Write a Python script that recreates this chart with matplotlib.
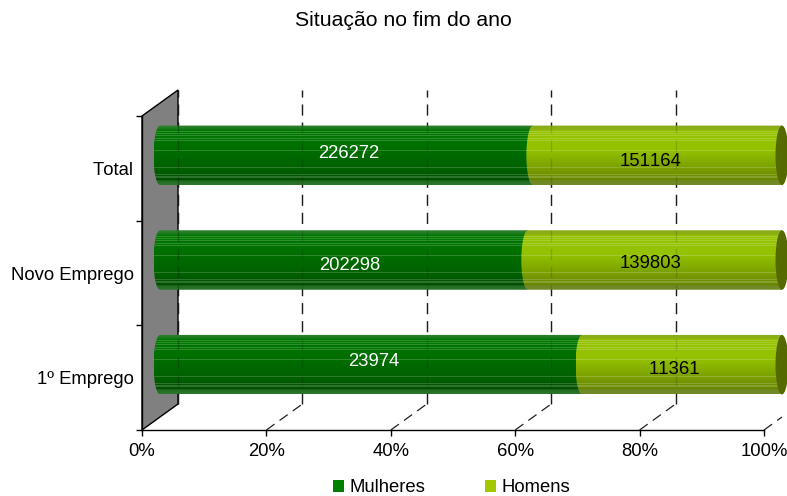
import numpy as np
import matplotlib
matplotlib.use("Agg")
import matplotlib.pyplot as plt
from matplotlib.colors import LinearSegmentedColormap
from matplotlib.patches import Patch, PathPatch, Polygon, Ellipse
from matplotlib.path import Path

plt.rcParams['font.family'] = ['Liberation Sans', 'DejaVu Sans']
plt.rcParams['text.kerning_factor'] = 8

title = "Situação no fim do ano"
categories = ["1º Emprego", "Novo Emprego", "Total"]
mulheres = [23974, 202298, 226272]
homens = [11361, 139803, 151164]
series_names = ["Mulheres", "Homens"]
tick_labels = ["0%", "20%", "40%", "60%", "80%", "100%"]

W, H = 787, 496
L, B, AW, AH = 142, 66, 622, 314
PX = 1 / AW
PY = 3 / AH
DX, DY = 36 * PX, 26 * PY          # depth of the 3D box
BDX, BDY = 18 * PX, 13 * PY        # depth offset of the cylinders
BAR_H = 59.5 * PY
CAP = 6.5 * PX
TOP = 3 + 26 * PY

fig = plt.figure(figsize=(W / 100, H / 100), dpi=100, facecolor="white")
ax = fig.add_axes([L / W, B / H, AW / W, AH / H])
ax.set_xlim(0, 1)
ax.set_ylim(0, 3)
ax.patch.set_alpha(0)

for s in ("top", "right"):
    ax.spines[s].set_visible(False)
for s in ("left", "bottom"):
    ax.spines[s].set_linewidth(1.0)
    ax.spines[s].set_zorder(20)
ax.set_xticks(np.linspace(0, 1, 6), tick_labels, fontsize=13.3)
ax.set_yticks([0, 1, 2, 3], [])
ax.set_yticks([0.5, 1.5, 2.5], categories, minor=True, fontsize=13.3)
ax.tick_params(axis="x", length=4, width=1, pad=5, color="black")
ax.tick_params(axis="y", which="major", length=4, width=1)
ax.tick_params(axis="y", which="minor", length=0, pad=5.8)

fig.text(403 / W, 1 - 21 / H, title, ha="center", va="center", fontsize=15.3)

# back wall
ax.add_patch(Polygon([(0, 0), (DX, DY), (DX, TOP), (0, 3)], closed=True,
                     facecolor="#808080", edgecolor="black", lw=1.0, zorder=1,
                     clip_on=False))
# gridlines on the back wall and floor; repeated faintly over the bars
dash = (0, (8, 5))
for v in np.linspace(0, 1, 6):
    if 0 < v < 1:
        ax.plot([v + DX, v + DX], [DY, TOP], color="#222222", lw=1, ls=dash,
                zorder=2, clip_on=False)
        ax.plot([v + DX, v + DX], [DY, TOP], color="black", lw=1, ls=dash, alpha=0.13,
                zorder=8, clip_on=False)
    if v > 0:
        end = 0.5 if v == 1 else 1
        ax.plot([v, v + DX * end], [0, DY * end], color="#222222", lw=0.9, ls=dash,
                zorder=2, clip_on=False)
ax.plot([DX, DX], [DY, TOP], color="#222222", lw=1, ls=dash, zorder=3, clip_on=False)
ax.plot([DX, DX], [DY, TOP], color="black", lw=1, ls=dash, alpha=0.25, zorder=8, clip_on=False)

# streak rows (fraction of height) on top of the vertical shading
streaks = [0.10, 0.14, 0.18, 0.22, 0.26, 0.42, 0.70, 0.82, 0.85, 0.88]
green = LinearSegmentedColormap.from_list("g", [(0, "#2f802f"), (0.05, "#1f7a1f"), (0.08, "#007800"),
                                                (0.35, "#007000"), (0.75, "#006000"), (0.92, "#004f00"),
                                                (0.94, "#226c22"), (1, "#2c752c")])
lime = LinearSegmentedColormap.from_list("l", [(0, "#8aab20"), (0.06, "#8cb010"), (0.1, "#96c400"),
                                               (0.4, "#94c200"), (0.75, "#789c00"), (0.92, "#688600"),
                                               (0.94, "#6f8924"), (1, "#728a28")])


def shade(cmap, n=60):
    arr = cmap(np.linspace(0, 1, n))
    for s in streaks:
        r = int(s * n)
        arr[r, :3] = arr[r, :3] * 0.82 + 0.18
    return arr


def segment(x0, x1, yc, cmap, z):
    t = np.linspace(np.pi / 2, 3 * np.pi / 2, 40)
    left = np.c_[x0 + CAP * np.cos(t), yc + BAR_H / 2 * np.sin(t)]
    right = np.array([[x1, yc - BAR_H / 2], [x1, yc + BAR_H / 2]])
    pts = np.vstack([left, right, left[:1]])
    clip = PathPatch(Path(pts), transform=ax.transData, facecolor="none", edgecolor="none")
    ax.add_patch(clip)
    clip.set_clip_on(False)
    im = ax.imshow(shade(cmap)[:, None, :], extent=[x0 - CAP, x1, yc - BAR_H / 2, yc + BAR_H / 2],
                   aspect="auto", origin="upper", zorder=z, interpolation="nearest")
    im.set_clip_path(clip)
    im.set_clip_box(fig.bbox)


label_dy_m = [3, -5.5, 2]     # px shift of the labels, as placed in the reference
label_dy_h = [-5, -4, -6]
label_dx_m = [3, 6, 2]
label_dx_h = [-8, -4, -7]

for i, (m, h) in enumerate(zip(mulheres, homens)):
    share = m / (m + h)
    yc = i + 0.5 + BDY
    x0, xm, x1 = BDX, share + BDX, 1 + BDX
    segment(x0, xm, yc, green, 5)
    segment(xm, x1, yc, lime, 6)
    ax.add_patch(Ellipse((x1, yc), 2 * CAP, BAR_H, facecolor="#556b00", edgecolor="none",
                         zorder=7, clip_on=False))
    ax.text((x0 + xm) / 2 + label_dx_m[i] * PX, yc + label_dy_m[i] * PY, f"{m}", color="white",
            ha="center", va="center", fontsize=13.3, zorder=10)
    ax.text((xm + x1) / 2 + label_dx_h[i] * PX, yc + label_dy_h[i] * PY, f"{h}", color="black",
            ha="center", va="center", fontsize=13.3, zorder=10)

ax.set_xlim(0, 1)
ax.set_ylim(0, 3)

handles = [Patch(facecolor="#008000", label=series_names[0]),
           Patch(facecolor="#a4c800", label=series_names[1])]
fig.legend(handles=handles, ncol=2, loc="center", bbox_to_anchor=(451.5 / W, 1 - 488 / H), frameon=False,
           fontsize=13.3, handlelength=0.62, handleheight=0.62, handletextpad=0.3, columnspacing=3.2,
           borderpad=0, borderaxespad=0)

fig.savefig("out.png", dpi=100)
